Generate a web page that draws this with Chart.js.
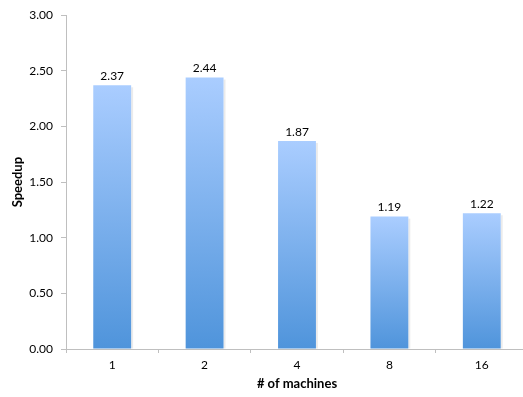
<!DOCTYPE html>
<html>
<head>
<meta charset="utf-8">
<script src="https://cdn.jsdelivr.net/npm/chart.js@4"></script>
<style>
html,body{margin:0;padding:0;background:#fff;overflow:hidden;}
#wrap{width:528px;height:397px;position:relative;}
</style>
</head>
<body>
<div id="wrap"><canvas id="c" width="528" height="397"></canvas></div>
<script>
const categories = ["1", "2", "4", "8", "16"];
const speedup = [2.37, 2.44, 1.87, 1.19, 1.22];
const yTicks = [0, 0.5, 1, 1.5, 2, 2.5, 3];

const FONT = "Lato, 'Open Sans', sans-serif";

const labelPlugin = {
  id: 'valueLabels',
  afterDatasetsDraw(chart) {
    const ctx = chart.ctx;
    const meta = chart.getDatasetMeta(0);
    ctx.save();
    ctx.font = "12px " + FONT;
    ctx.fillStyle = "#000";
    ctx.textAlign = "center";
    ctx.textBaseline = "bottom";
    meta.data.forEach((bar, i) => {
      ctx.fillText(speedup[i].toFixed(2), bar.x, bar.y - 3);
    });
    ctx.restore();
  }
};

const shadowPlugin = {
  id: 'barShadow',
  beforeDatasetsDraw(chart) {
    const ctx = chart.ctx;
    const meta = chart.getDatasetMeta(0);
    ctx.save();
    ctx.fillStyle = "rgba(0,0,0,0.08)";
    meta.data.forEach(bar => {
      ctx.fillRect(bar.x + bar.width / 2, bar.y + 2, 2, bar.base - bar.y - 2);
    });
    ctx.restore();
  }
};

function barGradient(context) {
  const chart = context.chart;
  if (!chart.chartArea || context.raw === undefined) return "#7FB0EE";
  const y = chart.scales.y;
  const top = y.getPixelForValue(context.raw);
  const base = y.getPixelForValue(0);
  const g = chart.ctx.createLinearGradient(0, top, 0, base);
  g.addColorStop(0, "#AACDFF");
  g.addColorStop(1, "#4F94DB");
  return g;
}

new Chart(document.getElementById('c'), {
  type: 'bar',
  data: {
    labels: categories,
    datasets: [{
      data: speedup,
      backgroundColor: barGradient,
      borderWidth: 0,
      barPercentage: 0.5,
      categoryPercentage: 0.82
    }]
  },
  plugins: [shadowPlugin, labelPlugin],
  options: {
    responsive: false,
    animation: false,
    events: [],
    layout: { padding: { top: 13, left: 0, right: 0, bottom: 0 } },
    plugins: { legend: { display: false }, tooltip: { enabled: false } },
    scales: {
      x: {
        grid: {
          offset: true,
          drawOnChartArea: false,
          drawTicks: true,
          tickLength: 4,
          color: "#BFBFBF"
        },
        border: { color: "#BFBFBF", width: 1 },
        ticks: {
          color: "#000",
          font: { family: FONT, size: 12 },
          padding: 5
        },
        title: {
          display: true,
          text: "# of machines",
          color: "#000",
          font: { family: FONT, size: 13, weight: 'bold' },
          padding: { top: 0, bottom: 5 }
        },
        afterFit(scale) { scale.height = 48; }
      },
      y: {
        min: 0,
        max: 3,
        afterBuildTicks(scale) { scale.ticks = yTicks.map(v => ({ value: v })); },
        grid: {
          drawOnChartArea: false,
          drawTicks: true,
          tickLength: 5,
          color: "#BFBFBF"
        },
        border: { color: "#BFBFBF", width: 1 },
        ticks: {
          color: "#000",
          font: { family: FONT, size: 12 },
          padding: 8,
          callback: v => Number(v).toFixed(2)
        },
        title: {
          display: true,
          text: "Speedup",
          color: "#000",
          font: { family: FONT, size: 13, weight: 'bold' },
          padding: { top: 10, bottom: 0 }
        },
        afterFit(scale) { scale.width = 66; }
      }
    }
  }
});
</script>
</body>
</html>
